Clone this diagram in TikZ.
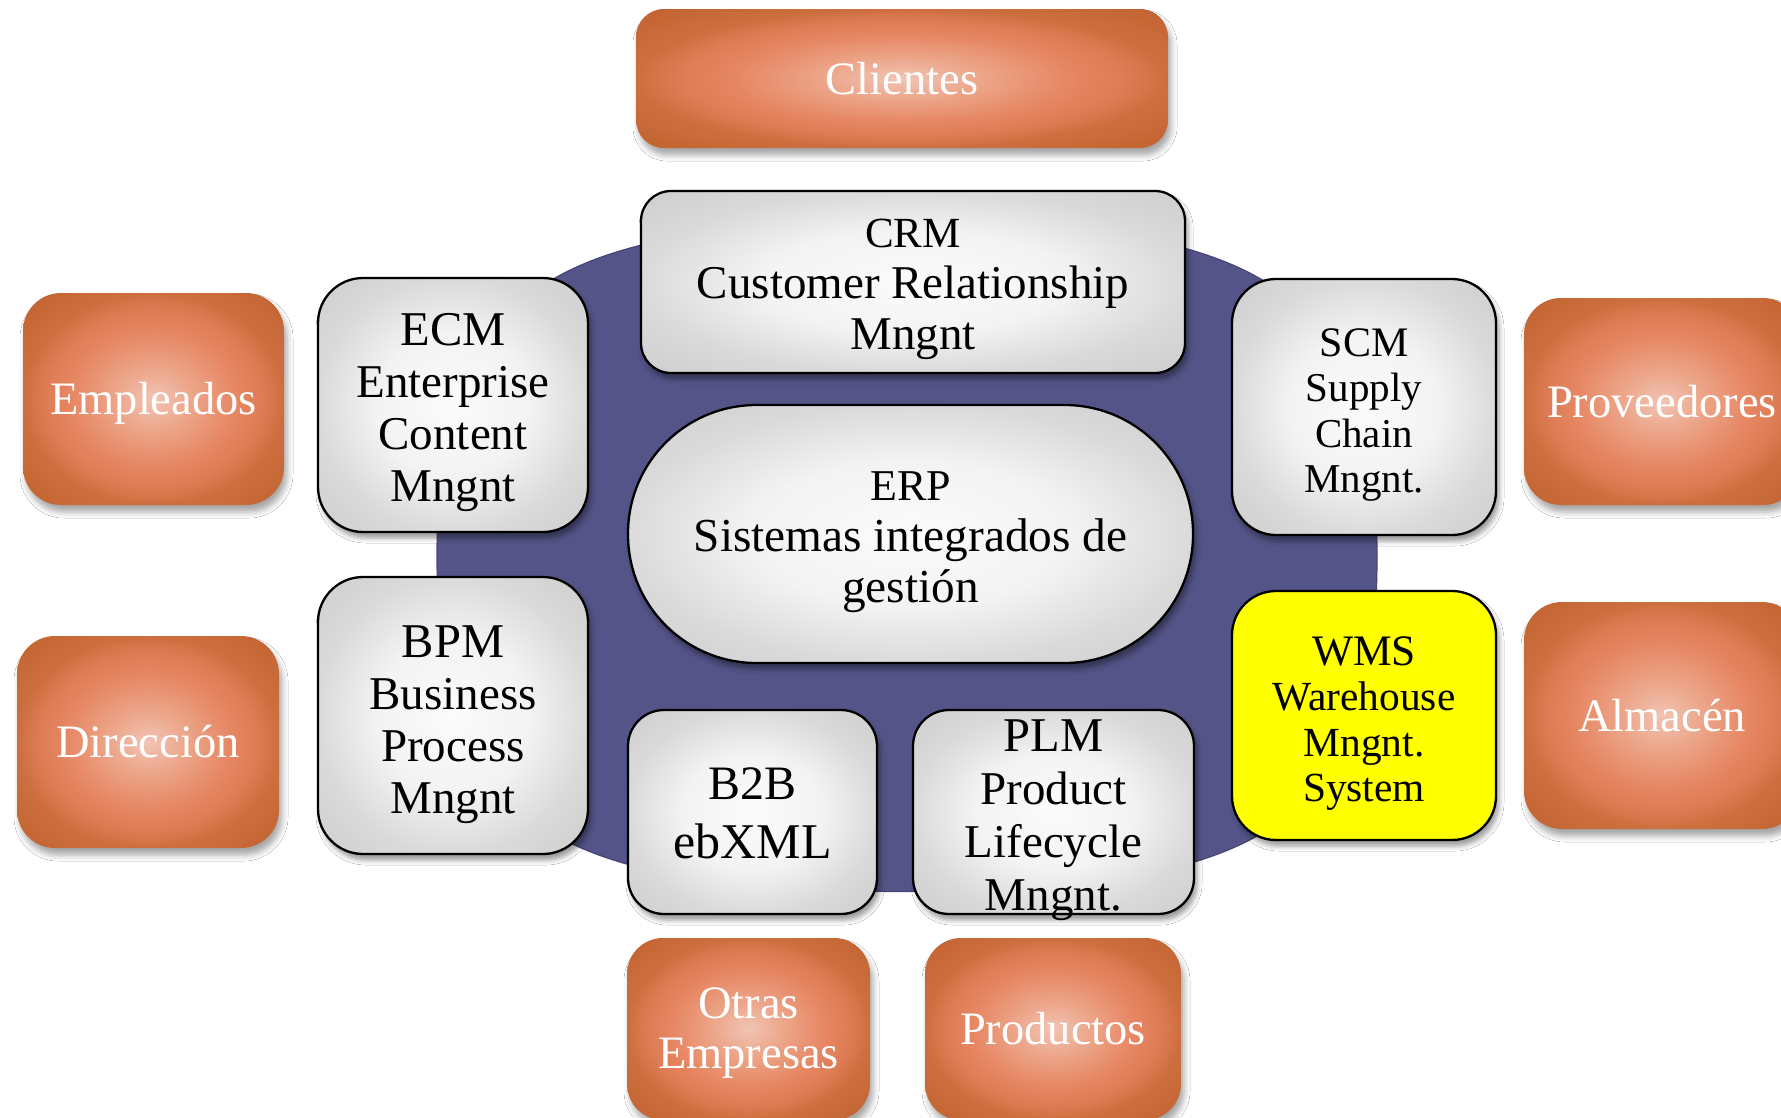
\documentclass[tikz,border=0pt]{standalone}
\usepackage{fontspec}
\setmainfont{Liberation Serif}
\usetikzlibrary{shadows.blur}
\definecolor{blobc}{RGB}{84,84,136}
\definecolor{blobd}{RGB}{70,70,118}
\definecolor{og0}{RGB}{241,196,180}
\definecolor{og1}{RGB}{236,165,137}
\definecolor{og2}{RGB}{230,134,98}
\definecolor{og5}{RGB}{221,124,84}
\definecolor{og3}{RGB}{205,110,62}
\definecolor{og4}{RGB}{193,99,48}
\definecolor{gg0}{RGB}{251,251,251}
\definecolor{gg1}{RGB}{243,243,243}
\definecolor{gg2}{RGB}{218,218,218}
\definecolor{gg3}{RGB}{206,206,206}
\definecolor{wmsy}{RGB}{255,255,0}
\pgfdeclareradialshading{oglow}{\pgfpoint{0bp}{0bp}}{color(0bp)=(og0); color(7.5bp)=(og1); color(16bp)=(og2); color(21bp)=(og5); color(25bp)=(og3); color(35bp)=(og4); color(50bp)=(og4)}
\pgfdeclareradialshading{gglow}{\pgfpoint{0bp}{0bp}}{color(0bp)=(gg0); color(14bp)=(gg1); color(25bp)=(gg2); color(35bp)=(gg3); color(50bp)=(gg3)}
\tikzset{
  obox/.style={rectangle, shading=oglow, inner sep=0pt, align=center, text=white,
    font=\fontsize{46.5}{50}\selectfont,
    blur shadow={shadow xshift=3pt, shadow yshift=-7pt, shadow blur radius=6pt, shadow opacity=35}},
  otext/.style={inner sep=0pt, align=center, text=white, font=\fontsize{46.5}{50}\selectfont},
  gbase/.style={rectangle, draw=black, line width=2.3pt, inner sep=0pt,
    blur shadow={shadow xshift=3pt, shadow yshift=-6pt, shadow blur radius=5pt, shadow opacity=40}},
  gbox/.style={gbase, shading=gglow},
  ybox/.style={gbase, fill=wmsy},
  gtext/.style={inner sep=0pt, align=center, text=black, font=\fontsize{47}{52}\selectfont},
  blobfill/.style={fill=blobc, draw=blobd, line width=1.2pt}
}
\begin{document}
\begin{tikzpicture}[x=1pt,y=-1pt]
\useasboundingbox (0,0) rectangle (1781,1117);
\clip (0,0) rectangle (1781,1117);
\fill[white] (0,0) rectangle (1781,1117);
% central blob
\path[blobfill] (1377,556.5) .. controls (1377,817.8) and (1273.6,891.5) .. (907,891.5)
  .. controls (540.4,891.5) and (437,817.8) .. (437,556.5)
  .. controls (437,295.2) and (540.4,221.5) .. (907,221.5)
  .. controls (1273.6,221.5) and (1377,295.2) .. (1377,556.5) -- cycle;
% orange boxes
\node[obox, minimum width=532pt, minimum height=139pt, rounded corners=28pt] (cli) at (902,78.5) {Clientes};
\node[obox, minimum width=261pt, minimum height=212pt, rounded corners=38pt] (emp) at (153.5,399) {};
\node[otext] (empt) at ([yshift=-4.5pt]emp.center) {Empleados};
\node[obox, minimum width=276pt, minimum height=207pt, rounded corners=37pt] (prov) at (1662,401.5) {Proveedores};
\node[obox, minimum width=262pt, minimum height=212pt, rounded corners=38pt] (dir) at (148,742) {Dirección};
\node[obox, minimum width=276pt, minimum height=227pt, rounded corners=38pt] (alm) at (1662,715.5) {Almacén};
\node[obox, minimum width=243pt, minimum height=182pt, rounded corners=36pt] (otr) at (748.5,1029) {};
\node[otext] (otrt) at ([yshift=-4.5pt]otr.center) {Otras\\Empresas};
\node[obox, minimum width=256pt, minimum height=182pt, rounded corners=36pt] (prod) at (1053,1029) {Productos};
% gray boxes
\node[gbox, minimum width=270pt, minimum height=254pt, rounded corners=45pt] (ecm) at (453,405) {};
\node[gtext] (ecmt) at ([yshift=-8pt]ecm.center)
  {{\fontsize{48.5}{52}\selectfont ECM}\\Enterprise\\Content\\Mngnt};
\node[gbox, minimum width=544pt, minimum height=182pt, rounded corners=30pt] (crm) at (913,282) {};
\node[gtext, font=\fontsize{47}{51}\selectfont] (crmt) at ([yshift=-7pt]crm.center)
  {{\fontsize{43}{51}\selectfont CRM}\\Customer Relationship\\Mngnt};
\node[gbox, minimum width=264pt, minimum height=256pt, rounded corners=44pt] (scm) at (1364,407) {};
\node[gtext, font=\fontsize{41}{45.5}\selectfont] (scmt) at ([yshift=-8pt]scm.center)
  {{\fontsize{42}{45.5}\selectfont SCM}\\Supply\\Chain\\Mngnt.};
\node[gbox, minimum width=565pt, minimum height=258pt, rounded corners=128.5pt] (erp) at (910.5,534) {};
\node[gtext, font=\fontsize{47.3}{51}\selectfont] (erpt) at ([yshift=-8pt]erp.center)
  {{\fontsize{44}{51}\selectfont ERP}\\Sistemas integrados de\\gestión};
\node[gbox, minimum width=270pt, minimum height=277pt, rounded corners=45pt] (bpm) at (453,715.5) {};
\node[gtext] (bpmt) at ([yshift=-9pt]bpm.center)
  {{\fontsize{48.5}{52}\selectfont BPM}\\Business\\Process\\Mngnt};
\node[ybox, minimum width=264pt, minimum height=249pt, rounded corners=44pt] (wms) at (1364,715.5) {};
\node[gtext, font=\fontsize{41.4}{45.5}\selectfont] (wmst) at ([yshift=-8pt]wms.center)
  {{\fontsize{43.5}{45.5}\selectfont WMS}\\Warehouse\\Mngnt.\\System};
\node[gbox, minimum width=249pt, minimum height=204pt, rounded corners=36pt] (b2b) at (752.5,812) {};
\node[gtext, font=\fontsize{50}{59}\selectfont] (b2bt) at ([yshift=-1pt]b2b.center)
  {{\fontsize{48}{59}\selectfont B2B}\\ebXML};
\node[gbox, minimum width=281pt, minimum height=204pt, rounded corners=36pt] (plm) at (1053.5,812) {};
\node[gtext, font=\fontsize{47}{53}\selectfont] (plmt) at ([yshift=-8pt]plm.center)
  {{\fontsize{48.5}{53}\selectfont PLM}\\Product\\Lifecycle\\Mngnt.};
\end{tikzpicture}
\end{document}
